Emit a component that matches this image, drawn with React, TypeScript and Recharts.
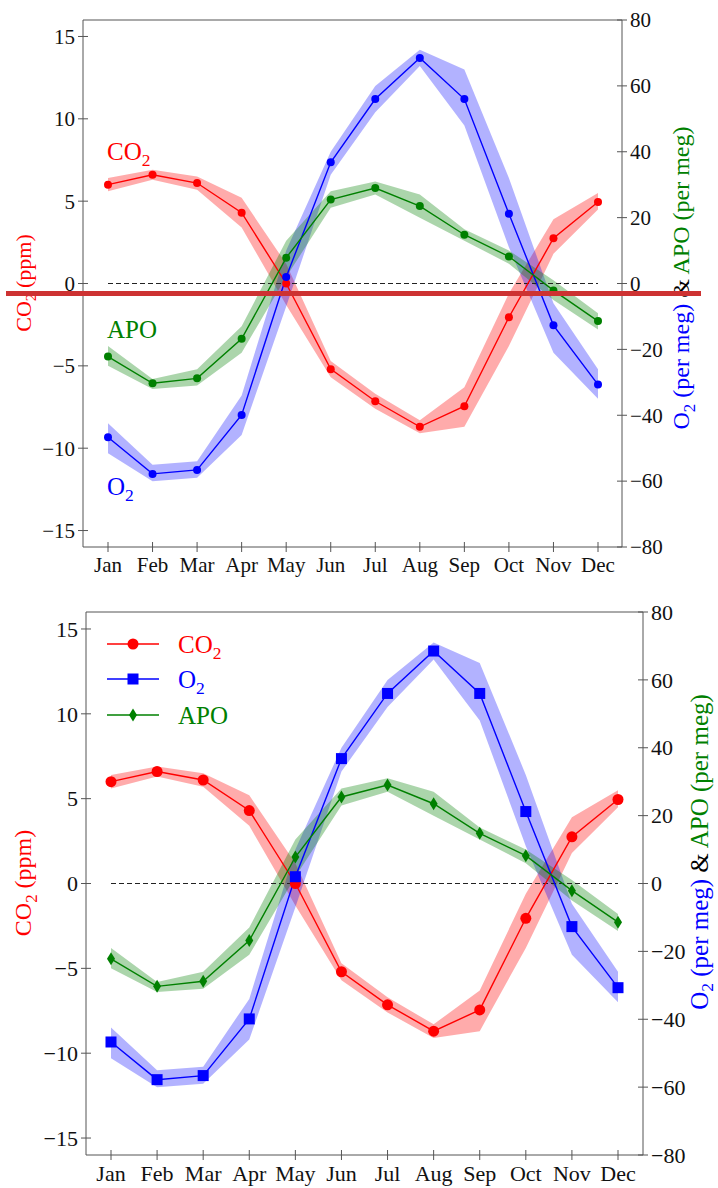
import React from 'react';
import { ComposedChart, Line, Area, XAxis, YAxis, ReferenceLine } from 'recharts';

const months = ['Jan', 'Feb', 'Mar', 'Apr', 'May', 'Jun', 'Jul', 'Aug', 'Sep', 'Oct', 'Nov', 'Dec'];

// CO2 in ppm (left axis)
const co2 = [6.0, 6.6, 6.1, 4.3, 0.0, -5.2, -7.15, -8.7, -7.45, -2.05, 2.75, 4.95];
const co2Lo = [5.6, 6.3, 5.7, 3.4, -1.3, -5.7, -7.6, -9.1, -8.7, -3.8, 1.8, 4.5];
const co2Hi = [6.4, 6.9, 6.5, 5.2, 1.2, -4.7, -6.7, -8.3, -6.3, -0.6, 3.9, 5.5];

// O2 in per meg (right axis)
const o2 = [-46.7, -57.8, -56.6, -39.9, 2, 36.8, 56, 68.5, 56, 21.2, -12.7, -30.7];
const o2Lo = [-51.5, -60, -59, -46, -7, 33, 52, 66, 48, 11, -21, -35];
const o2Hi = [-42.4, -55, -54, -34, 10, 40, 60, 71, 65, 32, -6, -26];

// APO in per meg (right axis)
const apo = [-22.2, -30.3, -28.8, -16.8, 7.8, 25.5, 29.0, 23.5, 14.8, 8.2, -2.1, -11.4];
const apoLo = [-25, -32, -31, -21, 2, 23, 27, 20, 13, 6, -5, -14];
const apoHi = [-19, -29, -26, -13, 13, 28, 31, 27, 16.5, 10, 1, -9];

const leftTicks = [-15, -10, -5, 0, 5, 10, 15];
const rightTicks = [-80, -60, -40, -20, 0, 20, 40, 60, 80];

const RED = '#ff0000';
const BLUE = '#0000ff';
const GREEN = '#008000';
const AXIS = '#555555';
const FONT = "'Liberation Serif', 'DejaVu Serif', 'Times New Roman', serif";

const data = months.map((m, i) => ({
  m,
  co2: co2[i],
  co2Band: [co2Lo[i], co2Hi[i]],
  o2: o2[i],
  o2Band: [o2Lo[i], o2Hi[i]],
  apo: apo[i],
  apoBand: [apoLo[i], apoHi[i]],
}));

const fmt = (v: number) => (v < 0 ? `\u2212${Math.abs(v)}` : `${v}`);

const makeTick = (side: 'left' | 'right' | 'bottom', fs: number) => (props: any) => {
  const { x, y, payload } = props;
  if (side === 'bottom') {
    return (
      <g>
        <line x1={x} x2={x} y1={y - 5} y2={y + 5} stroke={AXIS} />
        <text x={x} y={y + 8} dy="0.8em" textAnchor="middle" fontSize={fs} style={{ fontFamily: FONT }} fill="#111">
          {payload.value}
        </text>
      </g>
    );
  }
  const dir = side === 'left' ? -1 : 1;
  return (
    <g>
      <line x1={x - 5} x2={x + 5} y1={y} y2={y} stroke={AXIS} />
      <text x={x + dir * 8} y={y} dy="0.35em" textAnchor={side === 'left' ? 'end' : 'start'} fontSize={fs} style={{ fontFamily: FONT }} fill="#111">
        {fmt(payload.value)}
      </text>
    </g>
  );
};

const square = (color: string, s: number) => (p: any) => (
  <rect key={`sq-${p.index}`} x={p.cx - s / 2} y={p.cy - s / 2} width={s} height={s} fill={color} />
);
const diamond = (color: string, w: number, h: number) => (p: any) => (
  <polygon
    key={`dm-${p.index}`}
    points={`${p.cx},${p.cy - h / 2} ${p.cx + w / 2},${p.cy} ${p.cx},${p.cy + h / 2} ${p.cx - w / 2},${p.cy}`}
    fill={color}
  />
);

type PanelProps = {
  width: number;
  height: number;
  margin: { top: number; right: number; bottom: number; left: number };
  pad: { left: number; right: number };
  fs: number;
  shapes: boolean;
};

const Panel = ({ width, height, margin, pad, fs, shapes }: PanelProps) => {
  const r = shapes ? 5.5 : 4;
  const co2Dot = { r, fill: RED, stroke: RED, strokeWidth: 0 };
  const o2Dot: any = shapes ? square(BLUE, 11) : { r, fill: BLUE, stroke: BLUE, strokeWidth: 0 };
  const apoDot: any = shapes ? diamond(GREEN, 8, 13) : { r, fill: GREEN, stroke: GREEN, strokeWidth: 0 };
  return (
    <ComposedChart width={width} height={height} data={data} margin={margin}>
      <XAxis
        dataKey="m"
        scale="point"
        padding={pad}
        interval={0}
        stroke={AXIS}
        tickLine={false}
        tickSize={0}
        tickMargin={0}
        height={30}
        tick={makeTick('bottom', fs)}
      />
      <YAxis
        yAxisId="left"
        domain={[-16, 16]}
        ticks={leftTicks}
        allowDataOverflow
        stroke={AXIS}
        tickLine={false}
        tickSize={0}
        tickMargin={0}
        width={40}
        tick={makeTick('left', fs)}
      />
      <YAxis
        yAxisId="right"
        orientation="right"
        domain={[-80, 80]}
        ticks={rightTicks}
        allowDataOverflow
        stroke={AXIS}
        tickLine={false}
        tickSize={0}
        tickMargin={0}
        width={40}
        tick={makeTick('right', fs)}
      />
      <ReferenceLine yAxisId="left" y={16} stroke={AXIS} />
      <ReferenceLine
        yAxisId="left"
        segment={[{ x: 'Jan', y: 0 }, { x: 'Dec', y: 0 }]}
        stroke="#222"
        strokeDasharray="5 3"
      />
      <Area yAxisId="left" dataKey="co2Band" fill={RED} fillOpacity={0.33} stroke="none" isAnimationActive={false} />
      <Area yAxisId="right" dataKey="o2Band" fill={BLUE} fillOpacity={0.3} stroke="none" isAnimationActive={false} />
      <Area yAxisId="right" dataKey="apoBand" fill={GREEN} fillOpacity={0.33} stroke="none" isAnimationActive={false} />
      <Line yAxisId="left" type="linear" dataKey="co2" stroke={RED} strokeWidth={1.4} dot={co2Dot} isAnimationActive={false} />
      <Line yAxisId="right" type="linear" dataKey="o2" stroke={BLUE} strokeWidth={1.4} dot={o2Dot} isAnimationActive={false} />
      <Line yAxisId="right" type="linear" dataKey="apo" stroke={GREEN} strokeWidth={1.4} dot={apoDot} isAnimationActive={false} />
    </ComposedChart>
  );
};

const Sub = ({ children, fs }: { children: string; fs: number }) => (
  <tspan fontSize={fs * 0.7} dy={fs * 0.22}>{children}</tspan>
);

const RightLabel = ({ x, y, fs }: { x: number; y: number; fs: number }) => (
  <text x={x} y={y} transform={`rotate(-90 ${x} ${y})`} textAnchor="middle" dy="0.35em" fontSize={fs} style={{ fontFamily: FONT }}>
    <tspan fill={BLUE}>O</tspan>
    <tspan fill={BLUE} fontSize={fs * 0.7} dy={fs * 0.22}>2</tspan>
    <tspan fill={BLUE} dy={-fs * 0.22}> (per meg) </tspan>
    <tspan fill="#000">&amp; </tspan>
    <tspan fill={GREEN}>APO (per meg)</tspan>
  </text>
);

const LeftLabel = ({ x, y, fs }: { x: number; y: number; fs: number }) => (
  <text x={x} y={y} transform={`rotate(-90 ${x} ${y})`} textAnchor="middle" dy="0.35em" fontSize={fs} style={{ fontFamily: FONT }} fill={RED}>
    <tspan>CO</tspan>
    <tspan fontSize={fs * 0.7} dy={fs * 0.22}>2</tspan>
    <tspan dy={-fs * 0.22}> (ppm)</tspan>
  </text>
);

const Label = ({ x, y, color, main, sub, fs }: { x: number; y: number; color: string; main: string; sub?: string; fs: number }) => (
  <text x={x} y={y} fontSize={fs} style={{ fontFamily: FONT }} fill={color}>
    <tspan>{main}</tspan>
    {sub ? <Sub fs={fs}>{sub}</Sub> : null}
  </text>
);

const App = () => {
  return (
    <div style={{ position: 'absolute', left: 0, top: 0, width: 718, height: 1188, background: '#fff', overflow: 'hidden', fontFamily: FONT }}>
      <div style={{ position: 'absolute', left: 0, top: 0 }}>
        <Panel width={718} height={590} margin={{ top: 20, right: 56, bottom: 13, left: 43 }} pad={{ left: 25, right: 24 }} fs={21} shapes={false} />
      </div>
      <div style={{ position: 'absolute', left: 0, top: 590 }}>
        <Panel width={718} height={598} margin={{ top: 22, right: 35, bottom: 3, left: 46 }} pad={{ left: 25, right: 25 }} fs={22} shapes={true} />
      </div>
      <svg width={718} height={1188} style={{ position: 'absolute', left: 0, top: 0, pointerEvents: 'none' }}>
        {/* top panel labels */}
        <LeftLabel x={23} y={283} fs={22} />
        <RightLabel x={681} y={278} fs={24} />
        <Label x={107} y={160} color={RED} main="CO" sub="2" fs={25} />
        <Label x={107} y={338} color={GREEN} main="APO" fs={25} />
        <Label x={107} y={495} color={BLUE} main="O" sub="2" fs={25} />

        {/* bottom panel labels */}
        <LeftLabel x={23} y={883} fs={24} />
        <RightLabel x={699} y={852} fs={25} />

        {/* bottom legend */}
        <line x1={107} x2={159} y1={644} y2={644} stroke={RED} strokeWidth={1.4} />
        <circle cx={133} cy={644} r={5.5} fill={RED} />
        <Label x={178} y={653} color={RED} main="CO" sub="2" fs={25} />
        <line x1={107} x2={159} y1={679} y2={679} stroke={BLUE} strokeWidth={1.4} />
        <rect x={127.5} y={673.5} width={11} height={11} fill={BLUE} />
        <Label x={178} y={688} color={BLUE} main="O" sub="2" fs={25} />
        <line x1={107} x2={159} y1={715} y2={715} stroke={GREEN} strokeWidth={1.4} />
        <polygon points="133,708.5 137,715 133,721.5 129,715" fill={GREEN} />
        <Label x={178} y={724} color={GREEN} main="APO" fs={25} />
      </svg>
      <div style={{ position: 'absolute', left: 6, top: 291, width: 695, height: 5, background: '#cd3232' }} />
    </div>
  );
};

export default App;
